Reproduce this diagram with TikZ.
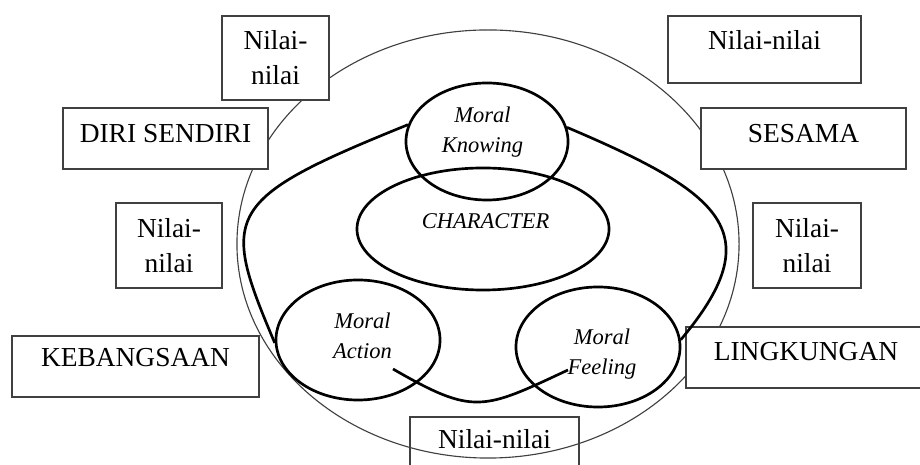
\documentclass[tikz,border=0pt]{standalone}
\usepackage{fontspec}
\setmainfont{Liberation Serif}
\usetikzlibrary{shapes.geometric}

\begin{document}
\begin{tikzpicture}[
  x=0.025cm, y=0.025cm,
  box/.style={draw=black!75, line width=1.2pt, fill=white, rectangle, align=center, inner sep=0pt, font=\fontsize{19.5}{25}\selectfont},
  word/.style={box, text height=14pt},
  oval/.style={draw, ellipse, line width=1.9pt, inner sep=0pt},
  moral/.style={align=center, inner sep=0pt, font=\fontsize{16}{21}\selectfont\itshape},
  band/.style={line width=1.9pt}
]
\useasboundingbox (0,0) rectangle (920,465);

% Outer ring
\node[draw=black!75, line width=0.8pt, ellipse, inner sep=0pt, minimum width=12.55cm, minimum height=10.7cm] (Outer) at (488,221) {};

% Left side boxes
\node[box, minimum width=2.675cm, minimum height=2.1cm] (NilaiTL) at (275.5,407) {Nilai-\\nilai};
\node[word, text depth=7.6pt, minimum width=5.125cm, minimum height=1.525cm] (Diri) at (165.5,326.5) {DIRI SENDIRI};
\node[box, minimum width=2.65cm, minimum height=2.125cm] (NilaiL) at (169,219.5) {Nilai-\\nilai};
\node[word, text depth=13.3pt, minimum width=6.175cm, minimum height=1.525cm] (Kebangsaan) at (135.5,98.5) {KEBANGSAAN};

% Right side boxes
\node[word, text depth=13.3pt, minimum width=4.825cm, minimum height=1.675cm] (NilaiTR) at (764.5,415.5) {Nilai-nilai};
\node[word, text depth=7.6pt, minimum width=5.125cm, minimum height=1.525cm] (Sesama) at (803.5,326.5) {SESAMA};
\node[box, minimum width=2.7cm, minimum height=2.125cm] (NilaiR) at (807,219.5) {Nilai-\\nilai};
\node[word, text depth=10.4pt, minimum width=6cm, minimum height=1.525cm] (Lingkungan) at (806,107.5) {LINGKUNGAN};

% Bottom box
\node[word, fill=none, text depth=17.5pt, minimum width=4.225cm, minimum height=1.675cm] (NilaiB) at (494.5,14.5) {Nilai-nilai};

% Moral ovals
\node[oval, minimum width=4.05cm, minimum height=2.925cm] (MKnow) at (487,323.5) {};
\node[oval, minimum width=6.3cm, minimum height=3.05cm] (Char) at (483,236) {};
\node[oval, minimum width=4.1cm, minimum height=3cm] (MAct) at (358,125) {};
\node[oval, minimum width=4.1cm, minimum height=3cm] (MFeel) at (598,118) {};

\node[moral] (KnowTxt) at (482.5,333) {Moral\\Knowing};
\node[moral] (CharTxt) at (485.5,243.5) {CHARACTER};
\node[moral] (ActTxt) at (362.5,129) {Moral\\Action};
\node[moral] (FeelTxt) at (602,111) {Moral\\Feeling};

% Thick band between the ovals
\coordinate (ActIn) at (393,96);
\coordinate (FeelIn) at (568,95);

\draw[band] (MKnow.168) .. controls +(202:200) and +(113:140) .. (MAct.182);
\draw[band] (MKnow.10) .. controls +(-23:170) and +(50:140) .. (MFeel.5);
\draw[band] (ActIn) .. controls +(-30:94) and +(205:94) .. (FeelIn);

\end{tikzpicture}
\end{document}
